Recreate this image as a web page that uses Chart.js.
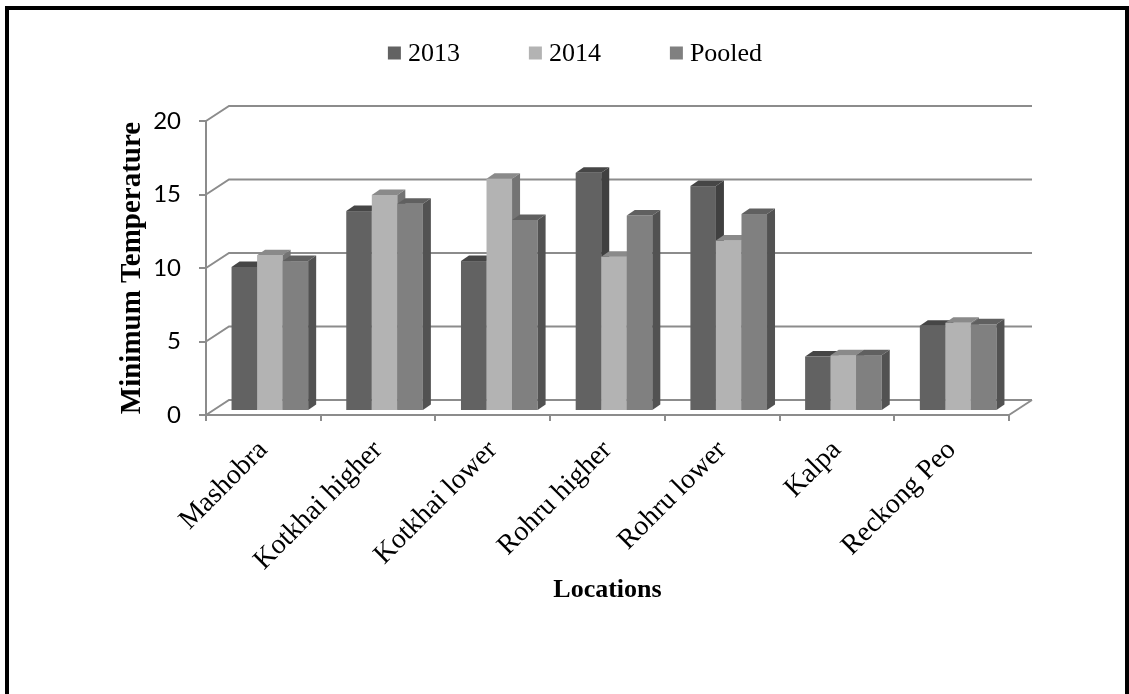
<!DOCTYPE html>
<html>
<head>
<meta charset="utf-8">
<script src="https://cdn.jsdelivr.net/npm/chart.js@4.4.1/dist/chart.umd.min.js"></script>
<style>
  html, body { margin: 0; padding: 0; background: #ffffff; }
  #wrap { position: relative; width: 1129px; height: 694px; overflow: hidden; }
  #frame {
    position: absolute; left: 5px; top: 6px; width: 1124px; height: 720px;
    box-sizing: border-box; border: 4px solid #000; border-bottom: none;
    pointer-events: none;
  }
  canvas { position: absolute; left: 0; top: 0; }
</style>
</head>
<body>
<div id="wrap">
  <canvas id="chart" width="1129" height="694"></canvas>
  <div id="frame"></div>
</div>
<script>
// Locations and minimum temperature per year
const locations = ['Mashobra', 'Kotkhai higher', 'Kotkhai lower', 'Rohru higher', 'Rohru lower', 'Kalpa', 'Reckong Peo'];
const seriesNames = ['2013', '2014', 'Pooled'];
const temp2013   = [9.8, 13.6, 10.2, 16.2, 15.3, 3.7, 5.8];
const temp2014   = [10.6, 14.7, 15.8, 10.5, 11.6, 3.8, 6.0];
const tempPooled = [10.2, 14.1, 13.0, 13.3, 13.4, 3.8, 5.9];
const yTicks = [0, 5, 10, 15, 20];

// face colours: front, top, side
const faces = [
  { front: '#626262', top: '#464646', side: '#404040' },
  { front: '#b3b3b3', top: '#8a8a8a', side: '#747474' },
  { front: '#808080', top: '#606060', side: '#525252' }
];
const GRID = '#8c8c8c';
const serif = '"Liberation Serif", "Times New Roman", serif';

// oblique projection used for the walls and the bars
const WALL = { dx: 23, dy: -15 };
const BAR_SHIFT = { dx: 6.5, dy: -4 };
const BAR_DEPTH = { dx: 8, dy: -5.5 };

const wall3d = {
  id: 'wall3d',
  beforeDatasetsDraw(chart) {
    const { ctx, chartArea: a, scales: { y } } = chart;
    ctx.save();
    ctx.strokeStyle = GRID;
    ctx.lineWidth = 2;
    y.ticks.forEach(t => {
      const py = y.getPixelForValue(t.value);
      ctx.beginPath();
      ctx.moveTo(a.left, py);
      ctx.lineTo(a.left + WALL.dx, py + WALL.dy);
      ctx.lineTo(a.right + WALL.dx, py + WALL.dy);
      ctx.stroke();
    });
    const p0 = y.getPixelForValue(0);
    ctx.beginPath();
    ctx.moveTo(a.right, p0);
    ctx.lineTo(a.right + WALL.dx, p0 + WALL.dy);
    ctx.stroke();
    ctx.restore();
  },
  // bars are painted below, category by category, so that faces overlap correctly
  beforeDatasetDraw() { return false; },
  afterDatasetsDraw(chart) {
    const ctx = chart.ctx;
    const nSets = chart.data.datasets.length;
    ctx.save();
    for (let i = 0; i < locations.length; i++) {
      for (let d = 0; d < nSets; d++) {
        const el = chart.getDatasetMeta(d).data[i];
        const p = el.getProps(['x', 'y', 'base', 'width'], true);
        const L = p.x - p.width / 2 + BAR_SHIFT.dx;
        const R = p.x + p.width / 2 + BAR_SHIFT.dx;
        const T = p.y + BAR_SHIFT.dy;
        const B = p.base + BAR_SHIFT.dy;
        const c = faces[d];
        ctx.fillStyle = c.front;
        ctx.fillRect(L, T, R - L, B - T);
        ctx.fillStyle = c.top;
        ctx.beginPath();
        ctx.moveTo(L, T);
        ctx.lineTo(L + BAR_DEPTH.dx, T + BAR_DEPTH.dy);
        ctx.lineTo(R + BAR_DEPTH.dx, T + BAR_DEPTH.dy);
        ctx.lineTo(R, T);
        ctx.closePath();
        ctx.fill();
        ctx.fillStyle = c.side;
        ctx.beginPath();
        ctx.moveTo(R, T);
        ctx.lineTo(R + BAR_DEPTH.dx, T + BAR_DEPTH.dy);
        ctx.lineTo(R + BAR_DEPTH.dx, B + BAR_DEPTH.dy);
        ctx.lineTo(R, B);
        ctx.closePath();
        ctx.fill();
      }
    }
    ctx.restore();
  }
};

// legend row across the top
const topLegend = {
  id: 'topLegend',
  afterDraw(chart) {
    const ctx = chart.ctx;
    const box = 13, gap = 7, spacing = 69, cy = 53, cx = 575;
    ctx.save();
    ctx.font = '26px ' + serif;
    ctx.textBaseline = 'middle';
    ctx.textAlign = 'left';
    const items = chart.data.datasets.map(ds => ({ label: ds.label, w: ctx.measureText(ds.label).width }));
    const total = items.reduce((s, it) => s + box + gap + it.w, 0) + spacing * (items.length - 1);
    let x = cx - total / 2;
    items.forEach((it, d) => {
      ctx.fillStyle = faces[d].front;
      ctx.fillRect(x, cy - box / 2, box, box);
      ctx.fillStyle = '#000';
      ctx.fillText(it.label, x + box + gap, cy + 1);
      x += box + gap + it.w + spacing;
    });
    ctx.restore();
  }
};

new Chart(document.getElementById('chart'), {
  type: 'bar',
  data: {
    labels: locations,
    datasets: [
      { label: seriesNames[0], data: temp2013, backgroundColor: faces[0].front },
      { label: seriesNames[1], data: temp2014, backgroundColor: faces[1].front },
      { label: seriesNames[2], data: tempPooled, backgroundColor: faces[2].front }
    ]
  },
  options: {
    responsive: false,
    devicePixelRatio: 1,
    animation: false,
    events: [],
    layout: { padding: { top: 121, left: 10, right: 120, bottom: 0 } },
    datasets: { bar: { categoryPercentage: 0.668, barPercentage: 1.0 } },
    plugins: { legend: { display: false }, tooltip: { enabled: false } },
    scales: {
      x: {
        grid: { drawOnChartArea: false, offset: true, color: GRID, lineWidth: 2, tickLength: 6 },
        border: { color: GRID, width: 2 },
        ticks: {
          autoSkip: false, minRotation: 45, maxRotation: 45, padding: 13,
          color: '#000', font: { family: serif, size: 28 }
        },
        title: {
          display: true, text: 'Locations', color: '#000', padding: 88,
          font: { family: serif, size: 26, weight: 'bold' }
        },
        afterFit(scale) { scale.height = 279; }
      },
      y: {
        min: 0, max: 20,
        afterBuildTicks(scale) { scale.ticks = yTicks.map(v => ({ value: v })); },
        grid: { drawOnChartArea: false, color: GRID, lineWidth: 2, tickLength: 7 },
        border: { color: GRID, width: 2 },
        ticks: { padding: 18, color: '#000', font: { family: 'Lato, "Open Sans", sans-serif', size: 24 } },
        title: {
          display: true, text: 'Minimum Temperature', color: '#000', padding: 105,
          font: { family: serif, size: 29, weight: 'bold' }
        },
        afterFit(scale) { scale.width = 196; }
      }
    }
  },
  plugins: [wall3d, topLegend]
});
</script>
</body>
</html>
